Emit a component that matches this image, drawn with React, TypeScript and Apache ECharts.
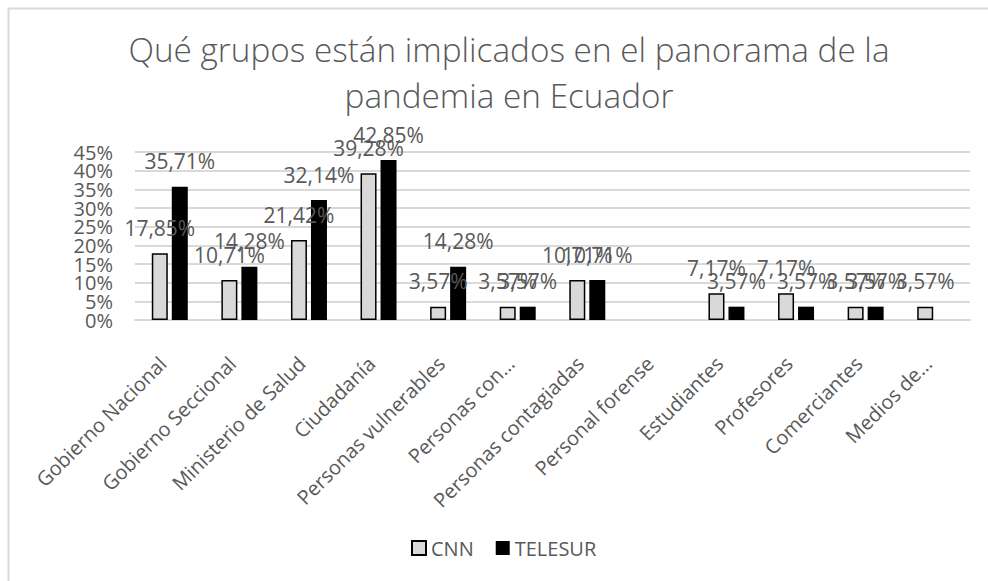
import React, { useEffect, useRef } from "react";
import * as echarts from "echarts";

const titleText = "Qué grupos están implicados en el panorama de la\npandemia en Ecuador";
const categories = [
  "Gobierno Nacional",
  "Gobierno Seccional",
  "Ministerio de Salud",
  "Ciudadanía",
  "Personas vulnerables",
  "Personas con…",
  "Personas contagiadas",
  "Personal forense",
  "Estudiantes",
  "Profesores",
  "Comerciantes",
  "Medios de…",
];
const cnnValues: (number | null)[] = [17.85, 10.71, 21.42, 39.28, 3.57, 3.57, 10.71, null, 7.17, 7.17, 3.57, 3.57];
const telesurValues: (number | null)[] = [35.71, 14.28, 32.14, 42.85, 14.28, 3.57, 10.71, null, 3.57, 3.57, 3.57, null];
const seriesNames = ["CNN", "TELESUR"];
const yMin = 0;
const yMax = 45;
const yStep = 5;

const FONT = "'Open Sans', 'Noto Sans', sans-serif";
const TXT = "#595959";

export default function App() {
  const ref = useRef<HTMLDivElement>(null);
  useEffect(() => {
    if (!ref.current) return;
    const chart = echarts.init(ref.current, null, { renderer: "svg" });
    const fmt = (p: any) => (p.value == null ? "" : Number(p.value).toFixed(2).replace(".", ",") + "%");
    const label = {
      show: true,
      position: "top" as const,
      distance: 15,
      color: TXT,
      fontSize: 21,
      fontFamily: FONT,
      formatter: fmt,
    };
    // plot area
    const gTop = 152;
    const gBottom = 261;
    const plotH = 581 - gTop - gBottom;
    const stepPx = (plotH * yStep) / (yMax - yMin);
    const yLabelStyle = {
      color: TXT,
      fontSize: 20,
      fontFamily: FONT,
      margin: 22,
    };
    chart.setOption({
      animation: false,
      backgroundColor: "#ffffff",
      textStyle: { fontFamily: FONT },
      graphic: [
        {
          type: "rect",
          shape: { x: 8.5, y: 8.5, width: 1000, height: 600 },
          style: { fill: "none", stroke: "#d9d9d9", lineWidth: 2 },
          silent: true,
        },
      ],
      title: {
        text: titleText,
        left: 504,
        textAlign: "center",
        top: 21,
        textStyle: {
          fontFamily: FONT,
          fontSize: 33.3,
          fontWeight: 300,
          color: TXT,
          lineHeight: 46,
        },
      },
      legend: {
        data: seriesNames,
        bottom: 18,
        left: 406,
        itemWidth: 14,
        itemHeight: 14,
        itemGap: 22,
        icon: "rect",
        textStyle: { color: TXT, fontSize: 20, fontFamily: FONT },
      },
      grid: [
        { left: 135, right: 18, top: gTop, bottom: gBottom },
        // label grid for even ticks (0,10,...,40)
        { left: 135, right: 18, top: gTop + stepPx, bottom: gBottom },
        // label grid for odd ticks (5,15,...,45)
        { left: 135, right: 18, top: gTop, bottom: gBottom - stepPx },
      ],
      xAxis: [
        {
          type: "category",
          gridIndex: 0,
          data: categories,
          axisLine: { show: true, lineStyle: { color: "#d9d9d9", width: 2 } },
          axisTick: { show: false },
          axisLabel: {
            rotate: 45,
            interval: 0,
            margin: 33,
            padding: [0, 10, 0, 0],
            color: TXT,
            fontSize: 20,
            fontFamily: FONT,
          },
        },
        { type: "value", gridIndex: 1, show: false, min: 0, max: 1 },
        { type: "value", gridIndex: 2, show: false, min: 0, max: 1 },
      ],
      yAxis: [
        {
          type: "value",
          gridIndex: 0,
          min: yMin,
          max: yMax,
          interval: yStep,
          axisLine: { show: false },
          axisTick: { show: false },
          splitLine: { lineStyle: { color: "#d9d9d9", width: 2 } },
          axisLabel: { show: false },
        },
        {
          type: "value",
          gridIndex: 1,
          min: yMin,
          max: yMax - yStep,
          interval: yStep * 2,
          axisLine: { show: false },
          axisTick: { show: false },
          splitLine: { show: false },
          axisLabel: { ...yLabelStyle, formatter: "{value}%" },
        },
        {
          type: "value",
          gridIndex: 2,
          min: yMin - yStep,
          max: yMax,
          interval: yStep * 2,
          axisLine: { show: false },
          axisTick: { show: false },
          splitLine: { show: false },
          axisLabel: {
            ...yLabelStyle,
            formatter: (v: number) => (v < yMin ? "" : v + "%"),
          },
        },
      ],
      series: [
        {
          name: seriesNames[0],
          type: "bar",
          xAxisIndex: 0,
          yAxisIndex: 0,
          data: cnnValues,
          barWidth: 16,
          barGap: "25%",
          itemStyle: { color: "#d9d9d9", borderColor: "#000000", borderWidth: 1.5 },
          label,
        },
        {
          name: seriesNames[1],
          type: "bar",
          xAxisIndex: 0,
          yAxisIndex: 0,
          data: telesurValues,
          barWidth: 16,
          barGap: "25%",
          itemStyle: { color: "#000000" },
          label,
        },
      ],
    });
    return () => chart.dispose();
  }, []);
  return (
    <div
      ref={ref}
      style={{ position: "absolute", left: 0, top: 0, width: 988, height: 581 }}
    />
  );
}
